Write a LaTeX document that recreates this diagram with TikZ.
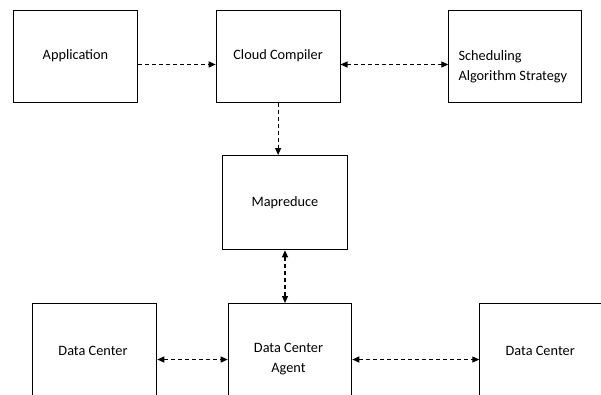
\documentclass[tikz,border=0pt]{standalone}
\usepackage{fontspec}
\setmainfont{Carlito}
\usetikzlibrary{arrows.meta}
\begin{document}
\begin{tikzpicture}[x=1pt,y=-1pt,
  box/.style={draw, line width=1pt, inner sep=0pt, anchor=north west, font=\fontsize{14.3}{20}\selectfont},
  lbl/.style={inner sep=0pt, font=\fontsize{14.3}{20}\selectfont},
  tip/.tip={Triangle[length=7pt,width=6pt]},
  conn/.style={line width=1.1pt, dash pattern=on 4pt off 3pt, -tip},
  biconn/.style={line width=1.1pt, dash pattern=on 4pt off 3pt, tip-tip}]
\useasboundingbox (0,0) rectangle (601,394);
\clip (0,0) rectangle (601,394);
% top row
\node[box, minimum width=124pt, minimum height=92.2pt] (app) at (13,9.5) {Application};
\node[box, minimum width=123.8pt, minimum height=92.2pt] (cc) at (215.7,9.5) {Cloud Compiler};
\node[box, minimum width=132.7pt, minimum height=92.2pt] (sched) at (448.3,9.5) {};
\node[lbl, anchor=west, align=left] (schedlbl) at (458.3,67) {Scheduling\\Algorithm Strategy};
% middle
\node[box, minimum width=124.4pt, minimum height=94.3pt] (map) at (222.3,155) {Mapreduce};
% bottom row
\node[box, minimum width=124pt, minimum height=100pt] (ldc) at (32.3,303) {};
\node[box, minimum width=123.6pt, minimum height=100pt] (agent) at (227.7,303) {};
\node[box, minimum width=124pt, minimum height=100pt] (rdc) at (479.3,303) {};
\node[lbl] (ldclbl) at (93,350.7) {Data Center};
\node[lbl, align=center] (agentlbl) at (288.5,359.5) {Data Center\\Agent};
\node[lbl] (rdclbl) at (540.2,350.7) {Data Center};
% connectors
\draw[conn] ([yshift=-8.4pt]app.east) -- ([yshift=-8.4pt]cc.west);
\draw[biconn] ([yshift=-8.4pt]cc.east) -- ([yshift=-8.4pt]sched.west);
\draw[conn] (cc.south) -- (cc.south |- map.north);
\draw[biconn] (map.south) -- (map.south |- agent.north);
\draw[biconn] ([yshift=-6pt]ldc.east) -- ([yshift=-6pt]agent.west);
\draw[biconn] ([yshift=-6pt]agent.east) -- ([yshift=-6pt]rdc.west);
\end{tikzpicture}
\end{document}
